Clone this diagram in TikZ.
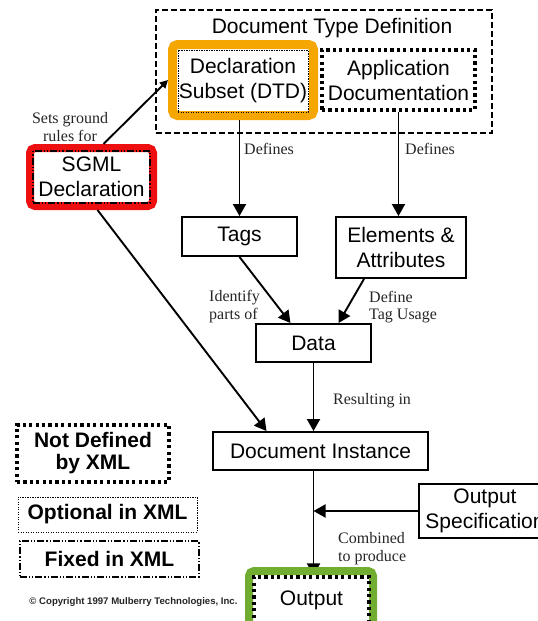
\documentclass[tikz,border=0pt]{standalone}
\usepackage{fontspec}
\setmainfont{Liberation Serif}
\setsansfont{Liberation Sans}
\usetikzlibrary{arrows.meta,calc,shadows}
\definecolor{frameorange}{RGB}{245,166,0}
\definecolor{framered}{RGB}{238,16,16}
\definecolor{framegreen}{RGB}{112,173,48}
\pgfdeclarelayer{bg}
\pgfdeclarelayer{under}
\pgfsetlayers{bg,under,main}
\tikzset{
  sanstext/.style={font=\fontsize{21}{25}\selectfont\sffamily},
  boldtext/.style={font=\fontsize{21}{22}\selectfont\sffamily\bfseries},
  serlabel/.style={font=\fontsize{16}{17.5}\selectfont\rmfamily, inner sep=0pt, align=left, text=black!85},
  plainbox/.style={draw, line width=1.9pt, inner sep=0pt, align=center, sanstext},
  dtdbox/.style={draw, line width=1.4pt, dash pattern=on 6pt off 3pt, inner sep=0pt},
  heavydots/.style={draw, line width=3.2pt, dash pattern=on 3.2pt off 3.2pt, inner sep=0pt, align=center},
  lightdots/.style={draw, line width=1pt, dash pattern=on 1.2pt off 1.3pt, inner sep=0pt, align=center},
  dashdots/.style={draw, line width=1.1pt, dash pattern=on 7pt off 2pt on 1.2pt off 2pt on 1.2pt off 2pt, inner sep=0pt, align=center},
  colframe/.style={draw, fill=white, rounded corners=5pt, inner sep=0pt,
    drop shadow={shadow xshift=1.5pt, shadow yshift=-2.5pt, opacity=0.18, fill=black}},
  arr/.style={line width=1.9pt, -{Triangle[length=12pt,width=13pt]}},
  arrsmall/.style={line width=1.9pt, -{Triangle[length=8pt,width=8pt]}}
}
\begin{document}
\begin{tikzpicture}[x=1pt,y=-1pt]
\useasboundingbox (0,0) rectangle (538,621);
\begin{pgfonlayer}{bg}
  \fill[white] (0,0) rectangle (538,621);
\end{pgfonlayer}

% Document Type Definition group
\node[dtdbox, minimum width=336pt, minimum height=123pt] (dtd) at (324,71.5) {};
\node[inner sep=0pt, sanstext] (dtdtitle) at (332,28) {Document Type Definition};
\node[colframe, draw=frameorange, line width=9pt, minimum width=141pt, minimum height=71pt] (declframe) at (243,80) {};
\node[lightdots, sanstext, minimum width=130pt, minimum height=62pt] (decl) at (243,81) {Declaration\\Subset (DTD)};
\node[heavydots, sanstext, minimum width=153pt, minimum height=60pt] (appdoc) at (398.5,80) {Application\\Documentation};

% SGML declaration
\node[colframe, draw=framered, line width=8pt, minimum width=123pt, minimum height=58pt] (sgmlframe) at (91.5,177) {};
\node[dashdots, sanstext, minimum width=117pt, minimum height=52pt] (sgml) at (91.5,177) {SGML\\Declaration};

% main flow boxes
\node[plainbox, minimum width=115pt, minimum height=39pt] (tags) at (239.5,236.5) {Tags};
\node[plainbox, minimum width=130pt, minimum height=61pt] (elem) at (401,247.5) {Elements \&\\Attributes};
\node[plainbox, minimum width=115pt, minimum height=38pt] (data) at (313.5,343) {Data};
\node[plainbox, minimum width=215pt, minimum height=38pt] (docinst) at (320.5,451) {Document Instance};
\node[plainbox, minimum width=132pt, minimum height=54pt] (outspec) at (485,511) {Output\\Specification};

% Output
\node[colframe, draw=framegreen, line width=8pt, minimum width=124pt, minimum height=64pt] (outframe) at (311,603) {};
\node[heavydots, sanstext, minimum width=115pt, minimum height=46pt] (output) at (311.5,600) {Output};

% legend
\node[heavydots, boldtext, minimum width=152pt, minimum height=57pt] (notdef) at (93,453.5) {Not Defined\\by XML};
\node[lightdots, boldtext, minimum width=179pt, minimum height=35pt] (optional) at (107.5,514.5) {Optional in XML};
\node[dashdots, boldtext, minimum width=179pt, minimum height=36pt] (fixed) at (109.5,559) {Fixed in XML};
\node[inner sep=0pt, font=\fontsize{9.6}{11}\selectfont\sffamily\bfseries, text=black!85] (copyright) at (133.5,602) {© Copyright 1997 Mulberry Technologies, Inc.};

% connector labels
\node[serlabel, align=center] (setsground) at (70,127) {Sets ground\\rules for};
\node[serlabel, anchor=west] (def1) at (244,149) {Defines};
\node[serlabel, anchor=west] (def2) at (405,149) {Defines};
\node[serlabel, anchor=west] (ident) at (209,306.5) {Identify\\parts of};
\node[serlabel, anchor=west] (defuse) at (369,307) {Define\\Tag Usage};
\node[serlabel, anchor=west] (result) at (333,401) {Resulting in};
\node[serlabel, anchor=west] (comb) at (338,548.5) {Combined\\to produce};

% connectors
\draw[arrsmall] (sgmlframe.70) -- (declframe.west);
\draw[arr] (tags.north |- declframe.south) -- (tags.north);
\draw[arr] (appdoc.south) -- (appdoc.south |- elem.north);
\draw[arr] (tags.south) -- ($(data.north)+(-23,0)$);
\draw[arr] ($(elem.south)+(-37,0)$) -- ($(data.north)+(25,0)$);
\draw[arr] (data.south) -- (data.south |- docinst.north);
\draw[arr] ($(sgmlframe.south)+(6,0)$) -- ($(docinst.north)+(-54,0)$);
\coordinate (join) at (data.south |- outspec.west);
\draw[arr] (outspec.west) -- (join);
\begin{pgfonlayer}{under}
  \draw[arr] (data.south |- docinst.south) -- (data.south |- output.north);
\end{pgfonlayer}
\end{tikzpicture}
\end{document}
